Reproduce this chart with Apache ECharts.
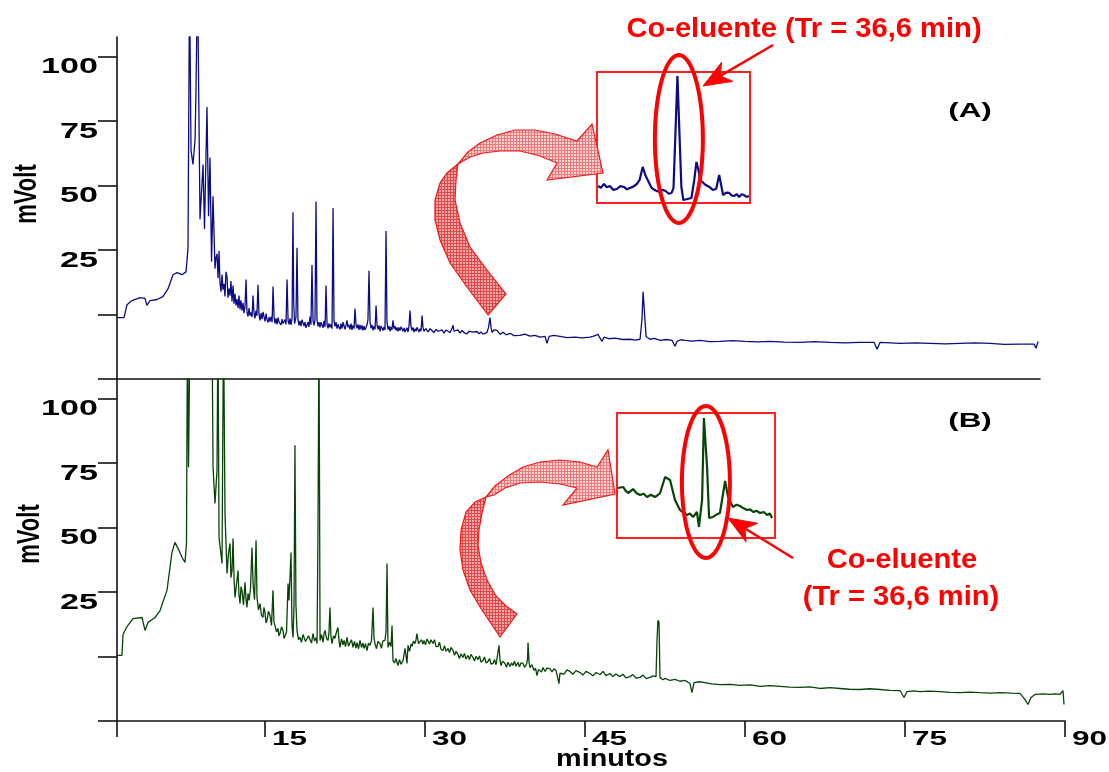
<!DOCTYPE html>
<html>
<head>
<meta charset="utf-8">
<script src="https://cdn.jsdelivr.net/npm/echarts@6/dist/echarts.min.js"></script>
<style>
  html, body { margin: 0; padding: 0; background: #ffffff; }
  #chart { width: 1109px; height: 772px; }
</style>
</head>
<body>
<div id="chart"></div>
<script>
// ---- Chromatogram (A): [retention time (min), signal (mV)] ----
const traceA = [
  [1.13,-1.2],[1.80,-1.2],[2.09,3.8],[2.57,5.4],[3.34,6.5],[3.82,6.2],[4.01,3.5],[4.30,5.4],[4.98,5.8],[5.55,6.9],
  [6.04,10.0],[6.52,15.4],[6.90,16.2],[7.38,15.4],[7.77,16.5],[7.96,25.4],[8.11,130],[8.25,63.8],[8.44,58.1],[8.64,67.7],
  [8.73,86.9],[8.88,130],[9.02,75.4],[9.12,36.9],[9.41,58.1],[9.55,33.1],[9.79,80.4],[9.94,38.1],[10.08,60.8],[10.23,20.4],
  [10.37,45.8],[10.56,17.7],[10.66,22.0],[10.76,23.5],[10.85,14.0],[10.95,24.6],[11.04,12.5],[11.14,8.8],[11.24,15.5],[11.33,9.6],
  [11.43,11.9],[11.52,7.0],[11.62,16.5],[11.72,14.6],[11.81,6.5],[11.91,10.0],[12.01,7.3],[12.10,13.0],[12.20,5.0],[12.30,11.2],
  [12.39,4.2],[12.49,8.0],[12.58,3.5],[12.68,6.0],[12.78,2.5],[12.87,7.3],[12.97,2.0],[13.06,5.5],[13.16,1.5],[13.26,4.5],
  [13.35,0.5],[13.45,3.1],[13.55,13.5],[13.64,1.0],[13.74,-0.8],[13.84,2.5],[13.93,-0.5],[14.03,0.8],[14.13,-1.0],[14.22,7.3],
  [14.32,0.5],[14.41,-1.5],[14.51,1.5],[14.60,-0.5],[14.70,11.5],[14.80,0.0],[14.90,-2.3],[15.00,0.5],[15.09,-1.8],[15.19,1.0],
  [15.28,-0.8],[15.38,-2.7],[15.48,0.3],[15.57,-2.0],[15.67,-3.1],[15.77,-1.0],[15.86,-2.8],[15.96,-0.8],[16.06,-3.0],[16.15,10.8],
  [16.25,-1.0],[16.34,-3.5],[16.44,-1.5],[16.54,-3.8],[16.63,-1.2],[16.73,-3.0],[16.82,-2.3],[16.92,-4.0],[17.02,-1.8],[17.11,-3.5],
  [17.21,-4.2],[17.31,-2.0],[17.40,-3.8],[17.50,13.5],[17.60,-2.5],[17.69,-3.8],[17.79,-1.5],[17.88,-4.0],[17.98,-1.5],[18.07,39.6],
  [18.14,5.0],[18.22,-3.5],[18.36,-1.0],[18.46,25.8],[18.55,-2.0],[18.65,-4.2],[18.75,-2.5],[18.84,-4.5],[18.94,-2.0],[19.04,-2.3],
  [19.13,-4.5],[19.23,-3.0],[19.32,-5.2],[19.42,-5.0],[19.52,-3.0],[19.61,-4.8],[19.71,-0.8],[19.80,-4.0],[19.90,19.2],[20.00,-2.5],
  [20.10,-4.2],[20.19,-2.0],[20.29,43.8],[20.38,-2.0],[20.48,-4.6],[20.58,-3.0],[20.67,-5.0],[20.77,-3.0],[20.87,-3.5],[20.96,-5.2],
  [21.06,-2.5],[21.16,-4.8],[21.25,11.2],[21.35,-3.5],[21.44,-5.4],[21.54,-3.5],[21.63,-5.0],[21.73,-3.8],[21.83,-5.5],[21.93,41.2],
  [22.02,-2.5],[22.12,-4.6],[22.22,-3.0],[22.31,-5.5],[22.41,-3.8],[22.50,-5.0],[22.60,-5.8],[22.70,-3.5],[22.79,-5.5],[22.89,-3.0],
  [22.99,-3.5],[23.08,-5.8],[23.18,-4.0],[23.27,-2.3],[23.37,-5.0],[23.46,-4.0],[23.56,-5.8],[23.66,-3.5],[23.75,-6.0],[23.85,-4.2],
  [23.95,-5.5],[24.04,2.3],[24.14,-4.0],[24.24,-5.4],[24.33,-3.8],[24.43,-6.0],[24.52,-4.0],[24.62,-5.8],[24.72,-4.2],[24.81,-6.2],
  [24.91,-4.5],[25.00,-6.0],[25.10,-6.2],[25.20,-4.0],[25.29,-2.0],[25.39,16.9],[25.49,-3.0],[25.59,-5.4],[25.68,-4.0],[25.78,-6.2],
  [25.88,-4.5],[25.97,-5.8],[26.07,3.5],[26.16,-4.0],[26.26,-5.8],[26.36,-4.2],[26.45,-6.5],[26.55,-4.5],[26.64,-4.2],[26.74,-6.2],
  [26.84,-4.8],[26.93,-6.0],[27.03,32.3],[27.12,-3.0],[27.22,-5.8],[27.32,-4.5],[27.41,-6.5],[27.51,-4.8],[27.60,-6.0],[27.70,-2.3],
  [27.80,-5.5],[27.89,-4.5],[27.99,-6.2],[28.09,-5.0],[28.18,-6.5],[28.28,-5.0],[28.37,-6.2],[28.47,-4.8],[28.57,-5.0],[28.66,-6.5],
  [28.76,-5.2],[28.86,-6.8],[28.96,-6.5],[29.05,-5.2],[29.15,-6.8],[29.24,-4.5],[29.34,1.5],[29.43,-4.5],[29.53,-6.2],[29.63,-5.0],
  [29.72,-6.8],[29.82,-5.5],[29.92,-6.5],[30.01,-5.0],[30.11,-5.4],[30.21,-6.8],[30.30,-5.5],[30.40,-6.5],[30.50,-0.4],[30.59,-5.0],
  [30.69,-6.5],[30.88,-5.5],[31.07,-6.8],[31.27,-5.5],[31.46,-5.8],[31.65,-7.0],[31.84,-5.8],[32.04,-6.5],[32.23,-6.9],[32.42,-6.0],
  [32.62,-7.2],[32.81,-6.0],[33.00,-6.2],[33.19,-7.0],[33.38,-5.5],[33.48,-4.2],[33.58,-6.5],[33.77,-6.9],[33.96,-6.0],[34.15,-7.2],
  [34.35,-6.2],[34.54,-7.0],[34.64,-6.5],[34.83,-7.5],[35.02,-6.5],[35.21,-7.2],[35.41,-6.8],[35.60,-7.3],[35.79,-6.6],[35.98,-7.5],
  [36.18,-6.8],[36.37,-7.6],[36.56,-6.9],[36.75,-7.0],[36.90,-5.0],[37.04,-1.2],[37.14,-5.0],[37.24,-6.9],[37.43,-6.0],[37.72,-6.2],
  [38.01,-7.7],[38.30,-6.9],[38.59,-7.9],[38.97,-7.3],[39.35,-8.2],[39.93,-8.1],[40.40,-7.6],[40.90,-8.4],[41.38,-8.1],[41.86,-8.8],
  [42.34,-8.5],[42.53,-11.2],[42.73,-8.5],[43.20,-8.1],[43.78,-8.5],[44.45,-9.0],[45.23,-8.8],[45.90,-9.1],[46.67,-8.8],[47.10,-8.3],
  [47.44,-7.7],[47.64,-9.2],[47.83,-10.4],[48.02,-8.8],[48.50,-9.4],[49.08,-9.2],[49.80,-9.7],[50.53,-9.6],[51.00,-9.9],[51.49,-9.6],
  [51.68,-1.5],[51.78,8.8],[51.97,8.8],[52.07,-8.5],[52.45,-9.6],[52.90,-9.3],[53.41,-10.0],[54.00,-9.7],[54.57,-10.0],[54.86,-12.3],
  [55.05,-10.4],[55.40,-9.8],[55.82,-10.0],[56.50,-10.3],[57.27,-10.0],[58.20,-10.5],[59.19,-10.4],[60.40,-10.1],[61.60,-10.4],[62.80,-10.6],
  [64.01,-10.4],[65.40,-10.7],[66.90,-10.8],[68.30,-10.5],[69.79,-10.8],[71.20,-11.0],[72.67,-10.8],[74.02,-10.8],[74.31,-13.5],[74.60,-10.8],
  [75.60,-11.0],[76.53,-11.2],[78.00,-11.0],[79.41,-11.2],[80.90,-11.4],[82.30,-11.2],[83.70,-11.0],[85.19,-11.2],[86.60,-11.6],[88.08,-11.5],
  [89.43,-11.5],[89.62,-13.1],[89.81,-10.4]
];

// ---- Chromatogram (B): [retention time (min), signal (mV)] ----
const traceB = [
  [1.13,0.4],[1.59,0.4],[1.69,8.5],[2.06,11.6],[2.63,14.7],[3.47,15.1],[3.75,10.1],[4.03,13.2],[4.69,15.1],[5.16,17.8],
  [5.81,25.6],[6.28,40.3],[6.56,44.2],[6.94,41.1],[7.22,38.4],[7.50,36.4],[7.64,43.8],[7.73,130],[7.83,73.3],[7.97,130],
  [8.91,260],[9.84,180],[10.03,130],[10.13,73.3],[10.31,59.3],[10.50,72.1],[10.59,130],[10.69,46.1],[10.97,36.0],[11.11,130],
  [11.25,55.4],[11.44,32.2],[11.58,40.0],[11.72,43.8],[11.81,30.5],[11.91,33.3],[12.00,45.7],[12.10,30.0],[12.19,22.9],[12.33,28.0],
  [12.47,33.3],[12.56,24.0],[12.66,20.5],[12.75,27.0],[12.84,25.6],[12.98,20.0],[13.13,28.7],[13.22,22.0],[13.31,19.0],[13.41,24.5],
  [13.50,21.7],[13.64,26.0],[13.78,42.2],[13.88,28.3],[14.02,22.0],[14.16,45.0],[14.25,22.9],[14.39,18.0],[14.53,20.5],[14.67,16.0],
  [14.81,15.1],[14.90,19.0],[15.00,17.1],[15.09,13.0],[15.19,14.0],[15.33,17.5],[15.47,15.9],[15.61,12.0],[15.75,25.6],[15.84,13.5],
  [15.94,12.8],[16.08,9.5],[16.22,10.9],[16.31,8.0],[16.41,8.9],[16.55,11.5],[16.69,10.1],[16.78,7.0],[16.88,7.4],[17.02,9.5],
  [17.16,28.3],[17.25,21.7],[17.44,40.3],[17.53,12.0],[17.63,7.4],[17.72,20.0],[17.81,81.8],[17.90,20.0],[18.00,10.1],[18.14,6.5],
  [18.28,7.4],[18.42,5.5],[18.56,8.5],[18.66,8.9],[18.80,5.8],[18.94,6.2],[19.08,8.0],[19.22,7.8],[19.36,5.2],[19.50,8.9],
  [19.64,6.0],[19.78,7.2],[19.88,5.0],[19.97,50.0],[20.06,130],[20.16,6.2],[20.30,8.5],[20.44,5.5],[20.54,9.0],[20.63,10.1],
  [20.77,7.0],[20.91,6.2],[21.00,9.5],[21.09,19.0],[21.18,8.0],[21.28,5.0],[21.42,8.0],[21.56,7.0],[21.70,9.5],[21.84,11.2],
  [21.94,6.0],[22.03,3.5],[22.17,6.8],[22.31,4.5],[22.41,6.2],[22.55,3.8],[22.69,7.4],[22.83,4.0],[22.97,4.3],[23.11,6.5],
  [23.25,3.5],[23.39,5.8],[23.53,3.2],[23.63,5.4],[23.77,3.0],[23.91,6.2],[24.05,3.5],[24.18,5.2],[24.28,3.1],[24.42,5.0],
  [24.56,2.3],[24.70,5.2],[24.84,4.3],[24.98,6.0],[25.05,12.0],[25.13,19.0],[25.22,7.0],[25.31,5.0],[25.45,3.0],[25.59,5.8],
  [25.78,5.0],[25.92,3.2],[26.06,6.0],[26.25,6.2],[26.35,10.0],[26.44,36.0],[26.53,3.5],[26.67,5.5],[26.81,3.8],[26.91,12.0],
  [27.00,-1.6],[27.14,-2.5],[27.28,-0.8],[27.47,-3.5],[27.61,-1.2],[27.75,-3.0],[27.94,-1.6],[28.13,3.1],[28.31,-2.7],[28.41,4.3],
  [28.55,2.0],[28.69,4.8],[28.78,3.9],[28.92,6.0],[29.06,5.0],[29.16,6.5],[29.25,8.9],[29.39,5.0],[29.53,4.3],[29.67,6.5],
  [29.81,4.8],[29.91,6.2],[30.05,4.5],[30.19,6.8],[30.28,7.4],[30.42,4.8],[30.56,6.5],[30.75,5.0],[30.89,6.5],[31.03,3.8],
  [31.22,3.9],[31.36,5.5],[31.50,2.8],[31.69,2.3],[31.83,4.2],[31.97,2.0],[32.16,3.1],[32.30,1.5],[32.44,3.5],[32.63,2.3],
  [32.77,0.5],[32.91,2.0],[33.09,0.8],[33.23,-0.8],[33.37,1.0],[33.56,-0.4],[33.70,1.2],[33.84,-1.0],[34.03,0.4],[34.17,-1.2],
  [34.31,0.8],[34.50,-0.4],[34.64,-1.8],[34.78,0.0],[34.97,-1.2],[35.11,0.2],[35.25,-2.2],[35.44,-1.6],[35.58,-0.2],[35.72,-2.5],
  [35.91,-1.9],[36.05,-0.8],[36.19,-3.0],[36.38,-2.7],[36.52,-1.2],[36.66,-3.2],[36.84,-2.7],[36.94,4.3],[37.03,-1.5],[37.13,-3.5],
  [37.27,-1.8],[37.50,-2.7],[37.64,-4.2],[37.78,-2.2],[37.97,-3.9],[38.11,-2.5],[38.25,-3.5],[38.39,-1.8],[38.53,-3.8],[38.72,-2.3],
  [38.86,-4.0],[39.00,-2.5],[39.19,-2.7],[39.33,-4.2],[39.52,-3.0],[39.61,-1.0],[39.66,5.4],[39.75,-2.0],[39.84,-4.3],[40.03,-3.2],
  [40.22,-5.4],[40.36,-4.5],[40.50,-7.4],[40.64,-5.0],[40.78,-4.7],[40.92,-6.0],[41.06,-4.3],[41.25,-5.8],[41.44,-4.5],[41.72,-4.7],
  [41.90,-6.0],[42.09,-4.8],[42.28,-5.4],[42.42,-6.0],[42.56,-10.5],[42.65,-6.5],[42.75,-5.8],[43.03,-6.8],[43.31,-5.2],[43.59,-5.8],
  [43.87,-6.9],[44.15,-5.5],[44.53,-6.2],[44.81,-7.2],[45.09,-5.8],[45.47,-6.6],[45.75,-7.5],[46.03,-6.2],[46.41,-7.0],[46.69,-5.8],
  [46.97,-7.4],[47.34,-6.6],[47.62,-7.8],[47.90,-6.8],[48.28,-7.8],[48.56,-6.9],[48.84,-8.3],[49.22,-7.8],[49.50,-7.0],[49.78,-8.4],
  [50.16,-8.1],[50.44,-7.2],[50.72,-8.6],[51.09,-8.1],[51.38,-7.5],[51.66,-7.8],[51.75,6.2],[51.84,14.0],[51.94,13.2],[52.03,-8.1],
  [52.30,-9.0],[52.50,-8.5],[52.97,-9.3],[53.44,-8.9],[53.90,-9.6],[54.38,-9.3],[54.84,-10.5],[55.03,-14.0],[55.22,-10.1],[55.70,-9.8],
  [56.25,-10.1],[56.90,-10.6],[57.66,-10.9],[58.60,-10.8],[59.53,-11.2],[60.50,-11.0],[61.41,-11.6],[62.30,-11.3],[63.28,-11.6],[64.20,-11.9],
  [65.16,-12.0],[66.10,-11.8],[67.03,-12.4],[68.00,-12.1],[68.91,-12.4],[69.80,-12.7],[70.78,-12.8],[71.70,-12.5],[72.66,-12.8],[73.60,-13.1],
  [74.53,-13.2],[74.91,-15.9],[75.19,-13.6],[75.80,-13.3],[76.41,-13.6],[77.30,-13.4],[78.28,-13.6],[79.20,-13.9],[80.16,-14.0],[81.10,-13.8],
  [82.03,-14.0],[83.00,-14.2],[83.91,-14.0],[84.90,-14.2],[85.78,-14.3],[86.25,-16.7],[86.53,-18.6],[86.81,-15.9],[87.19,-14.7],[87.90,-14.5],
  [88.59,-14.7],[89.10,-14.5],[89.53,-14.7],[89.81,-13.2],[89.91,-18.6]
];

// ---- Expanded views around the co-eluent peak: [time (min), relative signal] ----
const detailA = [
  [32.95,1.56],[33.08,1.40],[33.22,1.74],[33.35,1.45],[33.49,1.56],[33.65,1.20],[33.81,1.28],[33.97,1.55],[34.13,1.47],[34.27,1.25],
  [34.40,1.37],[34.56,1.50],[34.72,1.74],[34.85,2.11],[34.99,3.30],[35.13,2.47],[35.22,2.11],[35.40,1.37],[35.58,1.15],[35.76,1.01],
  [35.90,1.20],[36.04,1.10],[36.18,0.85],[36.31,0.92],[36.40,1.37],[36.58,11.63],[36.76,1.47],[36.85,0.27],[37.04,0.37],[37.22,0.46],
  [37.35,2.11],[37.45,3.76],[37.54,3.02],[37.63,2.11],[37.84,1.70],[38.04,1.47],[38.20,1.20],[38.35,1.28],[38.49,2.56],[38.67,0.73],
  [38.81,0.95],[38.95,0.92],[39.06,0.70],[39.17,0.64],[39.29,0.82],[39.40,0.55],[39.52,0.80],[39.63,0.73],[39.74,0.55],[39.85,0.64]
];
const detailB = [
  [32.79,4.80],[33.02,4.90],[33.13,4.55],[33.24,4.32],[33.35,4.50],[33.46,4.70],[33.62,4.30],[33.77,4.13],[33.93,4.25],[34.08,3.94],
  [34.25,4.15],[34.43,3.94],[34.55,4.10],[34.66,4.32],[34.88,5.86],[35.10,5.57],[35.32,3.65],[35.54,2.69],[35.70,2.40],[35.85,2.21],
  [35.98,2.35],[36.12,2.02],[36.29,2.50],[36.38,1.06],[36.52,3.65],[36.60,11.52],[36.74,6.82],[36.83,1.92],[37.00,2.02],[37.16,2.25],
  [37.31,2.40],[37.54,5.47],[37.67,3.94],[37.89,2.98],[38.05,3.20],[38.20,3.07],[38.36,2.85],[38.51,2.69],[38.65,2.75],[38.78,2.50],
  [38.94,2.60],[39.09,2.40],[39.25,2.50],[39.40,2.21],[39.52,2.35],[39.62,1.92]
];

// ---- Axis ticks and labels ----
const yTicks = [-25, 0, 25, 50, 75, 100];
const yLabels = [25, 50, 75, 100];
const xTicks = [15, 30, 45, 60, 75, 90];
const xLabels = [15, 30, 45, 60, 75, 90];
const coEluentTime = 36.6;
const tMin = 1.125, tMax = 90, mvMin = -25, mvMax = 107.5;

const FONT = '"Liberation Sans", Arial, Helvetica, sans-serif';
const RED = '#ff0000';
const AXIS = { show: true, onZero: false, lineStyle: { color: '#111111', width: 1.6 } };
const TICK_STYLE = { color: '#111111', width: 1.6 };

const chart = echarts.init(document.getElementById('chart'), null, { renderer: 'canvas' });

function mainY(grid) {
  return {
    gridIndex: grid, type: 'value', min: mvMin, max: mvMax,
    axisLine: AXIS,
    axisTick: { show: true, inside: false, length: 19, customValues: yTicks, lineStyle: TICK_STYLE },
    axisLabel: { show: false },
    splitLine: { show: false }
  };
}
function hiddenAxis(grid, min, max) {
  return { gridIndex: grid, type: 'value', min: min, max: max, show: false, splitLine: { show: false } };
}
function traceSeries(xi, data, color, width) {
  return {
    type: 'line', xAxisIndex: xi, yAxisIndex: xi, data: data,
    symbol: 'none', showSymbol: false, clip: true, silent: true,
    lineStyle: { color: color, width: width }
  };
}

chart.setOption({
  animation: false,
  backgroundColor: '#ffffff',
  grid: [
    { left: 117, top: 37, width: 923, height: 342, outerBoundsMode: 'none' },
    { left: 117, top: 379, width: 948, height: 342, outerBoundsMode: 'none' },
    { left: 597, top: 72, width: 153, height: 131, show: true, borderColor: '#ff2020', borderWidth: 2, outerBoundsMode: 'none' },
    { left: 617, top: 413, width: 158, height: 125, show: true, borderColor: '#ff2020', borderWidth: 2, outerBoundsMode: 'none' }
  ],
  xAxis: [
    { gridIndex: 0, type: 'value', min: tMin, max: tMax, axisLine: AXIS,
      axisTick: { show: false }, axisLabel: { show: false }, splitLine: { show: false } },
    { gridIndex: 1, type: 'value', min: tMin, max: tMax, axisLine: AXIS,
      axisTick: { show: true, inside: false, length: 16, customValues: [tMin].concat(xTicks), lineStyle: TICK_STYLE },
      axisLabel: { show: false }, splitLine: { show: false } },
    hiddenAxis(2, 32.9, 39.9),
    hiddenAxis(3, 32.75, 39.75)
  ],
  yAxis: [mainY(0), mainY(1), hiddenAxis(2, 0, 12), hiddenAxis(3, 0, 12)],
  series: [
    traceSeries(0, traceA, '#0c0c86', 1.3),
    traceSeries(1, traceB, '#074407', 1.3),
    traceSeries(2, detailA, '#0c0c86', 2.2),
    traceSeries(3, detailB, '#074407', 2.2)
  ]
});

// ---- Text, labels and annotation shapes, placed with the axes' own scales ----
const px = (g, t, v) => chart.convertToPixel({ gridIndex: g }, [t, v]);
const els = [];

function txt(text, x, y, opt) {
  opt = opt || {};
  els.push({
    type: 'text', x: x, y: y, z: 20, silent: true,
    scaleX: opt.sx || 1, scaleY: opt.sy || 1, rotation: opt.rot || 0,
    style: {
      text: text, fill: opt.color || '#000000', fontFamily: FONT, fontWeight: 'bold',
      fontSize: opt.size || 22, align: opt.align || 'center', verticalAlign: opt.va || 'middle'
    }
  });
}

// y tick labels (both panels)
[0, 1].forEach(function (g) {
  yLabels.forEach(function (v) {
    const p = px(g, tMin, v);
    txt(String(v), p[0] - 19, p[1] + 11, { size: 22, sx: 1.55, align: 'right' });
  });
});
// x tick labels (lower panel)
xLabels.forEach(function (t) {
  const p = px(1, t, mvMin);
  txt(String(t), p[0] + 7, p[1] + 18, { size: 21, sx: 1.5, align: 'left' });
});
txt('minutos', 612, 760, { size: 23, sx: 1.25 });
txt('mVolt', 28, 194, { size: 22, sy: 1.4, rot: Math.PI / 2 });
txt('mVolt', 31, 534, { size: 22, sy: 1.4, rot: Math.PI / 2 });
txt('(A)', 970, 111, { size: 21, sx: 1.5 });
txt('(B)', 970, 421, { size: 21, sx: 1.5 });

// red annotations
txt('Co-eluente (Tr = 36,6 min)', 804, 29, { size: 28, sx: 1.04, color: RED });
txt('Co-eluente', 902, 560, { size: 28, sx: 1.04, color: RED });
txt('(Tr = 36,6 min)', 901, 597, { size: 28, sx: 1.04, color: RED });

// ellipses around the co-eluent peak in each expanded view
function ellipse(cx, cy, rx, ry) {
  const pts = [];
  for (let i = 0; i < 96; i++) {
    const a = i / 96 * Math.PI * 2;
    pts.push([cx + rx * Math.cos(a), cy + ry * Math.sin(a)]);
  }
  els.push({ type: 'polygon', z: 22, silent: true, shape: { points: pts },
    style: { fill: 'none', stroke: RED, lineWidth: 4 } });
}
ellipse(px(2, coEluentTime, 6)[0] + 1, 139, 24, 84);
ellipse(px(3, coEluentTime, 6)[0] + 2, 482, 24, 76);

// straight pointer arrows
function pointer(x1, y1, x2, y2) {
  const dx = x2 - x1, dy = y2 - y1, L = Math.hypot(dx, dy);
  const ux = dx / L, uy = dy / L, nx = -uy, ny = ux;
  const headLen = 28, halfW = 11, notch = 20;
  const bx = x2 - ux * headLen, by = y2 - uy * headLen;
  const mx = x2 - ux * notch, my = y2 - uy * notch;
  els.push({ type: 'line', z: 22, silent: true, shape: { x1: x1, y1: y1, x2: mx, y2: my },
    style: { stroke: RED, lineWidth: 2.5 } });
  els.push({ type: 'polygon', z: 22, silent: true,
    shape: { points: [[x2, y2], [bx + nx * halfW, by + ny * halfW], [mx, my], [bx - nx * halfW, by - ny * halfW]] },
    style: { fill: RED, stroke: RED, lineWidth: 1 } });
}
pointer(773, 45, 703, 86);
pointer(793, 558, 728, 518);

// curved hatched block arrows
function makeHatch(bg, line, step) {
  const c = document.createElement('canvas');
  c.width = c.height = step;
  const g = c.getContext('2d');
  g.fillStyle = bg; g.fillRect(0, 0, step, step);
  g.fillStyle = line; g.fillRect(0, 0, step, 1); g.fillRect(0, 0, 1, step);
  return c;
}
const hatchLight = { image: makeHatch('#fcd6d6', '#f07878', 3), repeat: 'repeat' };
const hatchDark = { image: makeHatch('#f7a8a8', '#e04a4a', 3), repeat: 'repeat' };
function band(points, fill) {
  els.push({ type: 'polygon', z: 15, silent: true, shape: { points: points },
    style: { fill: fill, stroke: '#f21818', lineWidth: 1.2 } });
}
// arrow into view (A)
band([[488,315],[467,287],[450,263],[440,240],[435,220],[435,200],[440,183],[447,173],[458,164],
      [456,180],[455,200],[460,223],[470,247],[487,270],[506,294]], hatchDark);
band([[458,164],[468,152],[480,143],[497,135],[515,130],[535,130],[555,134],[577,141],[592,124],[603,173],
      [547,180],[557,163],[540,156],[520,151],[500,151],[483,153],[470,157]], hatchLight);
// arrow into view (B)
band([[500,637],[490,622],[480,607],[470,590],[463,570],[460,550],[461,530],[466,512],[475,502],[486,497],
      [482,513],[479,530],[478,545],[481,563],[487,580],[496,596],[506,606],[517,614]], hatchDark);
band([[486,497],[495,486],[508,476],[523,467],[540,462],[560,460],[580,462],[597,467],[608,450],[615,494],
      [563,505],[577,488],[560,484],[540,482],[520,483],[505,488],[494,495]], hatchLight);

chart.setOption({ graphic: { elements: els } });
</script>
</body>
</html>
